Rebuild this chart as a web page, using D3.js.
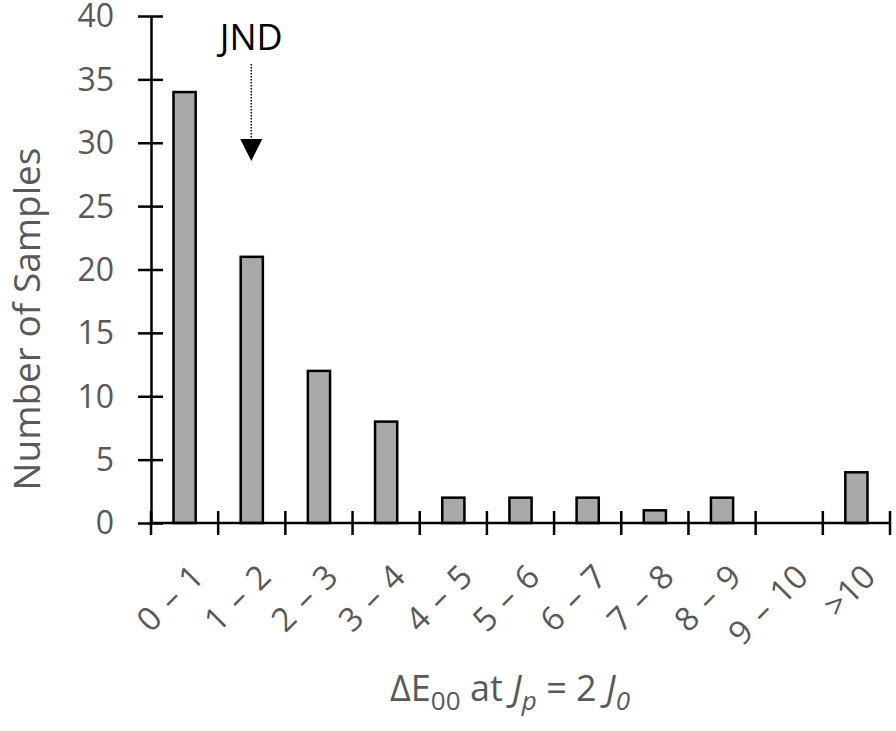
<!DOCTYPE html>
<html>
<head>
<meta charset="utf-8">
<script src="https://cdn.jsdelivr.net/npm/d3@7"></script>
<style>
  body { margin: 0; background: #fff; }
  text { font-family: "Open Sans", sans-serif; }
</style>
</head>
<body>
<div id="chart"></div>
<script>
'use strict'

const categories = ['0 – 1', '1 – 2', '2 – 3', '3 – 4', '4 – 5', '5 – 6', '6 – 7', '7 – 8', '8 – 9', '9 – 10', '>10']
const counts = [34, 21, 12, 8, 2, 2, 2, 1, 2, 0, 4]
const yTicks = [0, 5, 10, 15, 20, 25, 30, 35, 40]
const jndCategory = '1 – 2'

const width = 896
const height = 731
const margin = { left: 151, right: 6, top: 16, bottom: 208 }

const svg = d3.select('#chart').append('svg')
  .attr('width', width)
  .attr('height', height)

const x = d3.scaleBand()
  .domain(categories)
  .range([margin.left, width - margin.right])
  .paddingInner(0)
  .paddingOuter(0)

const y = d3.scaleLinear()
  .domain([0, 40])
  .range([height - margin.bottom, margin.top])

const barWidth = x.bandwidth() * 0.33

// bars
svg.selectAll('.bar')
  .data(counts)
  .enter()
  .append('rect')
    .attr('class', 'bar')
    .attr('x', (d, i) => x(categories[i]) + (x.bandwidth() - barWidth) / 2)
    .attr('y', d => y(d))
    .attr('width', barWidth)
    .attr('height', d => y(0) - y(d))
    .style('fill', '#a9a9a9')
    .style('stroke', d => d > 0 ? '#000' : 'none')
    .style('stroke-width', 2.5)

// y axis, ticks crossing the line
const yAxis = svg.append('g')
  .attr('transform', `translate(${margin.left},0)`)
  .call(d3.axisLeft(y).tickValues(yTicks).tickSize(0).tickPadding(37))
yAxis.select('.domain').attr('stroke', '#000').attr('stroke-width', 2.5)
yAxis.selectAll('.tick line')
  .attr('x1', -13).attr('x2', 12)
  .attr('stroke', '#000').attr('stroke-width', 2.5)
yAxis.selectAll('.tick text')
  .style('font-size', '32px')
  .attr('dy', '0.34em')
  .attr('fill', '#595959')

// x axis, tick at each band edge
const edges = categories.map(c => x(c)).concat([x.range()[1]])
const xg = svg.append('g').attr('transform', `translate(0,${y(0)})`)
xg.append('line')
  .attr('x1', margin.left).attr('x2', x.range()[1])
  .attr('stroke', '#000').attr('stroke-width', 2.5)
xg.selectAll('.xtick')
  .data(edges)
  .enter()
  .append('line')
    .attr('x1', d => d).attr('x2', d => d)
    .attr('y1', -12).attr('y2', 12)
    .attr('stroke', '#000').attr('stroke-width', 2.5)

xg.selectAll('.xlabel')
  .data(categories)
  .enter()
  .append('text')
    .attr('transform', d => `translate(${x(d) + x.bandwidth() / 2 + 21},56) rotate(-45)`)
    .attr('text-anchor', 'end')
    .style('font-size', '33px')
    .style('word-spacing', '3px')
    .attr('fill', '#595959')
    .text(d => d)

// y title
svg.append('text')
  .attr('transform', `translate(40,319) rotate(-90)`)
  .attr('text-anchor', 'middle')
  .style('font-size', '37px')
  .attr('fill', '#595959')
  .text('Number of Samples')

// x title with subscripts
const xt = svg.append('text')
  .attr('x', 510)
  .attr('y', 701)
  .attr('text-anchor', 'middle')
  .style('font-size', '36px')
  .attr('fill', '#595959')
xt.append('tspan').text('ΔE')
xt.append('tspan').attr('dy', 9).style('font-size', '26px').text('00')
xt.append('tspan').attr('dy', -9).text(' at ')
xt.append('tspan').style('font-style', 'italic').text('J')
xt.append('tspan').attr('dy', 9).style('font-size', '26px').style('font-style', 'italic').text('p')
xt.append('tspan').attr('dy', -9).text(' = 2 ')
xt.append('tspan').style('font-style', 'italic').text('J')
xt.append('tspan').attr('dy', 9).style('font-size', '26px').style('font-style', 'italic').text('0')

// JND annotation
const jx = x(jndCategory) + x.bandwidth() / 2 - 0.5
svg.append('text')
  .attr('x', jx)
  .attr('y', 50)
  .attr('text-anchor', 'middle')
  .style('font-size', '36px')
  .attr('fill', '#000')
  .text('JND')
svg.append('line')
  .attr('x1', jx).attr('x2', jx)
  .attr('y1', 64).attr('y2', 140)
  .attr('stroke', '#000').attr('stroke-width', 1.5)
  .attr('stroke-dasharray', '1.5,1.5')
svg.append('path')
  .attr('d', `M${jx - 11},139 L${jx + 11},139 L${jx},161 Z`)
  .attr('fill', '#000')
</script>
</body>
</html>
